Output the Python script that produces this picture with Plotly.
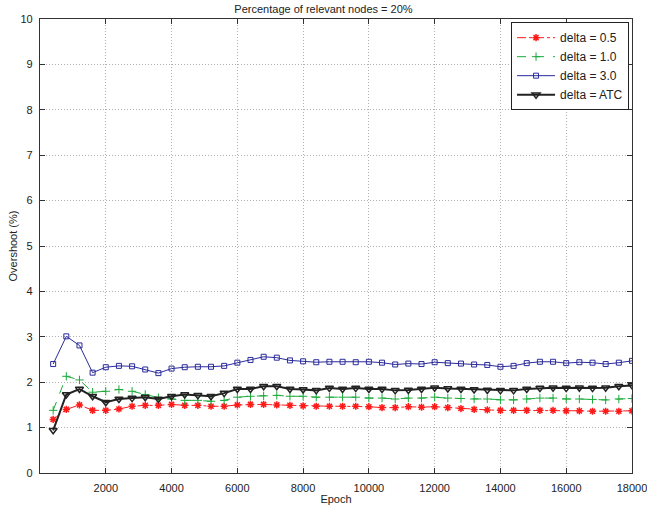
import plotly.graph_objects as go

epochs = list(range(400, 18001, 400))

delta_05 = [1.18, 1.40, 1.50, 1.38, 1.38, 1.41, 1.47, 1.49, 1.49, 1.51, 1.49, 1.49, 1.47, 1.47, 1.50,
            1.51, 1.51, 1.50, 1.49, 1.48, 1.47, 1.47, 1.47, 1.47, 1.46, 1.44, 1.44, 1.46, 1.45,
            1.46, 1.44, 1.42, 1.40, 1.39, 1.38, 1.38, 1.38, 1.38, 1.38, 1.37, 1.37, 1.36, 1.36, 1.36, 1.37]
delta_10 = [1.38, 2.13, 2.05, 1.78, 1.80, 1.84, 1.80, 1.73, 1.66, 1.63, 1.60, 1.60, 1.58, 1.60, 1.67,
            1.69, 1.70, 1.71, 1.69, 1.69, 1.67, 1.67, 1.67, 1.67, 1.65, 1.65, 1.63, 1.65, 1.65,
            1.67, 1.65, 1.64, 1.63, 1.63, 1.61, 1.61, 1.63, 1.65, 1.65, 1.63, 1.63, 1.62, 1.61, 1.63, 1.64]
delta_30 = [2.40, 3.01, 2.81, 2.21, 2.33, 2.36, 2.35, 2.28, 2.20, 2.30, 2.33, 2.34, 2.34, 2.36, 2.43,
            2.49, 2.56, 2.54, 2.48, 2.46, 2.44, 2.45, 2.45, 2.44, 2.45, 2.43, 2.39, 2.41, 2.40,
            2.44, 2.42, 2.41, 2.39, 2.38, 2.34, 2.36, 2.42, 2.45, 2.45, 2.42, 2.44, 2.43, 2.40, 2.43, 2.47]
delta_atc = [0.94, 1.73, 1.85, 1.69, 1.56, 1.63, 1.65, 1.67, 1.63, 1.69, 1.73, 1.71, 1.69, 1.76, 1.85,
             1.85, 1.91, 1.91, 1.85, 1.84, 1.82, 1.87, 1.85, 1.87, 1.85, 1.85, 1.82, 1.83, 1.85,
             1.88, 1.86, 1.85, 1.84, 1.83, 1.82, 1.82, 1.85, 1.87, 1.88, 1.87, 1.88, 1.87, 1.88, 1.91, 1.93]

x_ticks = list(range(2000, 18001, 2000))
y_ticks = list(range(0, 11))

FONT = "Liberation Sans, Arial"

fig = go.Figure()
fig.add_trace(go.Scatter(x=epochs, y=delta_05, name="delta = 0.5", mode="lines+markers",
                         line=dict(color="#ff1a1a", width=1, dash="dashdot"),
                         marker=dict(symbol="asterisk-open", size=6, color="#ff1a1a",
                                     line=dict(color="#ff1a1a", width=1.5))))
fig.add_trace(go.Scatter(x=epochs, y=delta_10, name="delta = 1.0", mode="lines+markers",
                         line=dict(color="#1aaa3a", width=1, dash="dash"),
                         marker=dict(symbol="cross-thin-open", size=6, color="#1aaa3a",
                                     line=dict(color="#1aaa3a", width=1))))
fig.add_trace(go.Scatter(x=epochs, y=delta_30, name="delta = 3.0", mode="lines+markers",
                         line=dict(color="#2a2a9a", width=1),
                         marker=dict(symbol="square-open", size=5, color="#2a2a9a",
                                     line=dict(color="#2a2a9a", width=1))))
fig.add_trace(go.Scatter(x=epochs, y=delta_atc, name="delta = ATC", mode="lines+markers",
                         line=dict(color="#222222", width=2),
                         marker=dict(symbol="triangle-down-open", size=7, color="#222222",
                                     line=dict(color="#222222", width=1.5))))

axis_common = dict(showline=True, linecolor="#333333", linewidth=1.2, mirror="allticks",
                   ticks="inside", ticklen=5, tickcolor="#333333",
                   showgrid=True, gridcolor="#b0b0b0", griddash="1px,2px", gridwidth=1,
                   zeroline=False, automargin=False, ticklabeloverflow="allow",
                   tickfont=dict(family=FONT, size=11, color="#222222"))

fig.update_xaxes(range=[0, 18000.5], tickvals=x_ticks, ticktext=[str(v) for v in x_ticks],
                 ticklabelstandoff=5,
                 title=dict(text="Epoch", font=dict(family=FONT, size=11, color="#222222"),
                            standoff=2), **axis_common)
fig.update_yaxes(range=[0, 10], tickvals=y_ticks, ticktext=[str(v) for v in y_ticks],
                 ticklabelstandoff=4,
                 title=dict(text="Overshoot (%)", font=dict(family=FONT, size=11, color="#222222"),
                            standoff=0), **axis_common)

fig.update_layout(
    width=647, height=509,
    margin=dict(l=40, r=15, t=19, b=36),
    paper_bgcolor="white", plot_bgcolor="white",
    title=dict(text="Percentage of relevant nodes = 20%", x=0.5, xanchor="center",
               y=0.99, yanchor="top",
               font=dict(family=FONT, size=11, color="#222222")),
    legend=dict(x=0.995, y=0.993, xanchor="right", yanchor="top",
                bgcolor="white", bordercolor="#222222", borderwidth=1,
                font=dict(family=FONT, size=12, color="#222222"),
                tracegroupgap=0, itemwidth=38),
    showlegend=True,
)

fig.write_html("out.html")
